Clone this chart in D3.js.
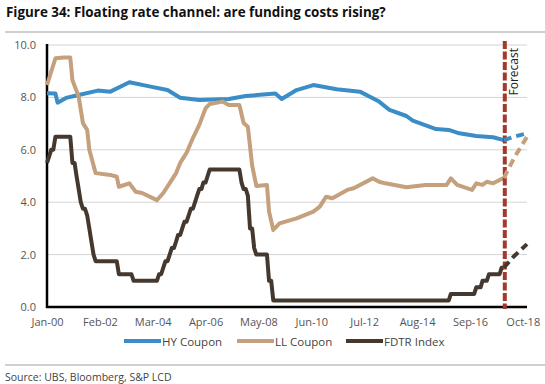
<!DOCTYPE html>
<html>
<head>
<meta charset="utf-8">
<script src="https://cdn.jsdelivr.net/npm/d3@7"></script>
<style>
  body { margin: 0; background: #fff; }
  svg { font-family: "Open Sans", sans-serif; }
</style>
</head>
<body>
<div id="chart"></div>
<script>
// HY coupon (month, %)
const hyCoupon = [
  ["2000-01", 8.16], ["2000-05", 8.15], ["2000-06", 7.80], ["2000-10", 7.98],
  ["2001-04", 8.09], ["2002-01", 8.26], ["2002-07", 8.22], ["2003-04", 8.58],
  ["2004-02", 8.41], ["2004-10", 8.28], ["2005-04", 7.99], ["2006-01", 7.90],
  ["2007-03", 7.94], ["2007-11", 8.05], ["2009-01", 8.15], ["2009-04", 7.94],
  ["2009-11", 8.28], ["2010-07", 8.47], ["2011-06", 8.31], ["2012-05", 8.22],
  ["2013-02", 7.84], ["2013-07", 7.52], ["2014-03", 7.29], ["2014-06", 7.11],
  ["2015-05", 6.79], ["2015-11", 6.76], ["2016-04", 6.63], ["2016-12", 6.53],
  ["2017-08", 6.48], ["2018-01", 6.37]
];

const llCoupon = [
  ["2000-01", 8.47], ["2000-03", 8.98], ["2000-05", 9.49], ["2000-09", 9.52],
  ["2000-12", 9.52], ["2001-01", 8.66], ["2001-04", 8.03], ["2001-06", 7.02],
  ["2001-08", 6.76], ["2001-09", 6.00], ["2001-12", 5.11], ["2002-07", 5.04],
  ["2002-10", 4.97], ["2002-11", 4.59], ["2003-04", 4.72], ["2003-07", 4.40],
  ["2003-10", 4.35], ["2004-05", 4.08], ["2004-08", 4.35], ["2004-11", 4.73],
  ["2005-02", 5.11], ["2005-04", 5.50], ["2005-07", 5.88], ["2005-10", 6.45],
  ["2006-01", 6.95], ["2006-04", 7.58], ["2006-06", 7.75], ["2006-12", 7.84],
  ["2007-03", 7.71], ["2007-08", 7.71], ["2007-10", 7.02], ["2007-12", 6.88],
  ["2008-02", 5.40], ["2008-04", 4.62], ["2008-09", 4.66], ["2008-10", 3.64],
  ["2008-12", 2.94], ["2009-03", 3.19], ["2009-11", 3.38], ["2010-07", 3.64],
  ["2010-10", 3.83], ["2011-01", 4.21], ["2011-04", 4.15], ["2011-11", 4.47],
  ["2012-02", 4.53], ["2012-11", 4.91], ["2013-02", 4.78], ["2013-05", 4.72],
  ["2014-03", 4.57], ["2014-12", 4.66], ["2015-10", 4.66], ["2015-12", 4.91],
  ["2016-03", 4.66], ["2016-10", 4.47], ["2016-12", 4.72], ["2017-03", 4.66],
  ["2017-05", 4.78], ["2017-08", 4.72], ["2017-11", 4.85], ["2018-01", 4.92]
];

const fdtrIndex = [
  ["2000-01", 5.5], ["2000-02", 5.75], ["2000-03", 6.0], ["2000-04", 6.0],
  ["2000-05", 6.5], ["2000-12", 6.5], ["2001-01", 5.5], ["2001-02", 5.5],
  ["2001-03", 5.0], ["2001-04", 4.5], ["2001-05", 4.0], ["2001-06", 3.75],
  ["2001-07", 3.75], ["2001-08", 3.5], ["2001-09", 3.0], ["2001-10", 2.5],
  ["2001-11", 2.0], ["2001-12", 1.75], ["2002-10", 1.75], ["2002-11", 1.25],
  ["2003-05", 1.25], ["2003-06", 1.0], ["2004-05", 1.0], ["2004-06", 1.25],
  ["2004-07", 1.25], ["2004-08", 1.5], ["2004-09", 1.75], ["2004-10", 1.75],
  ["2004-11", 2.0], ["2004-12", 2.25], ["2005-01", 2.25], ["2005-02", 2.5],
  ["2005-03", 2.75], ["2005-04", 2.75], ["2005-05", 3.0], ["2005-06", 3.25],
  ["2005-07", 3.25], ["2005-08", 3.5], ["2005-09", 3.75], ["2005-10", 3.75],
  ["2005-11", 4.0], ["2005-12", 4.25], ["2006-01", 4.5], ["2006-02", 4.5],
  ["2006-03", 4.75], ["2006-04", 4.75], ["2006-05", 5.0], ["2006-06", 5.25],
  ["2007-08", 5.25], ["2007-09", 4.75], ["2007-10", 4.5], ["2007-11", 4.5],
  ["2007-12", 4.25], ["2008-01", 3.0], ["2008-02", 3.0], ["2008-03", 2.25],
  ["2008-04", 2.0], ["2008-09", 2.0], ["2008-10", 1.0], ["2008-11", 1.0],
  ["2008-12", 0.25], ["2015-11", 0.25], ["2015-12", 0.5], ["2016-11", 0.5],
  ["2016-12", 0.75], ["2017-02", 0.75], ["2017-03", 1.0], ["2017-05", 1.0],
  ["2017-06", 1.25], ["2017-11", 1.25], ["2017-12", 1.5], ["2018-01", 1.5]
];

// dashed forecast legs
const hyForecast   = [["2018-01", 6.37], ["2018-06", 6.50], ["2018-12", 6.63]];
const llForecast   = [["2018-01", 4.92], ["2018-06", 5.70], ["2018-12", 6.50]];
const fdtrForecast = [["2018-01", 1.50], ["2018-06", 1.95], ["2018-12", 2.40]];

const forecastStart = "2018-01";
const xDomain = ["2000-01", "2018-12"];
const xTickLabels = ["2000-01", "2002-02", "2004-03", "2006-04", "2008-05",
                     "2010-06", "2012-07", "2014-08", "2016-09", "2018-10"];
const yTicks = [0, 2, 4, 6, 8, 10];

const seriesInfo = [
  { name: "HY Coupon",  color: "#3a8dc6", data: hyCoupon,  fc: hyForecast },
  { name: "LL Coupon",  color: "#c4a07d", data: llCoupon,  fc: llForecast },
  { name: "FDTR Index", color: "#45392f", data: fdtrIndex, fc: fdtrForecast }
];

const W = 545, H = 384;
const parse = d3.timeParse("%Y-%m");

const svg = d3.select("#chart").append("svg")
    .attr("width", W)
    .attr("height", H);

// title + rules
svg.append("text")
    .attr("x", 6).attr("y", 17)
    .attr("font-size", 13.4).attr("font-weight", "bold")
    .attr("fill", "#111")
    .text("Figure 34: Floating rate channel: are funding costs rising?");
svg.append("line").attr("x1", 5).attr("x2", W).attr("y1", 32).attr("y2", 32)
    .attr("stroke", "#d0d0d0").attr("stroke-width", 2);
svg.append("line").attr("x1", 5).attr("x2", W).attr("y1", 365).attr("y2", 365)
    .attr("stroke", "#d0d0d0").attr("stroke-width", 2);
svg.append("text")
    .attr("x", 5).attr("y", 381)
    .attr("font-size", 10.5).attr("fill", "#444")
    .text("Source: UBS, Bloomberg, S&P LCD");

const x = d3.scaleTime()
    .domain(xDomain.map(parse))
    .range([47, 527]);
const y = d3.scaleLinear()
    .domain([0, 10])
    .range([307, 45]);

// grid
svg.append("g")
  .selectAll("line")
  .data(yTicks.slice(1))
  .enter().append("line")
    .attr("x1", 47).attr("x2", 527)
    .attr("y1", d => y(d)).attr("y2", d => y(d))
    .attr("stroke", "#d4d4d4").attr("stroke-width", 1);

// axes
const yAxis = svg.append("g")
    .attr("transform", "translate(47,0)")
    .call(d3.axisLeft(y).tickValues(yTicks).tickFormat(d3.format(".1f")).tickSize(0).tickPadding(11));
const xAxis = svg.append("g")
    .attr("transform", "translate(0,307)")
    .call(d3.axisBottom(x).tickValues(xTickLabels.map(parse))
      .tickFormat(d3.timeFormat("%b-%y")).tickSize(0).tickPadding(11));
[yAxis, xAxis].forEach(a => {
  a.select(".domain").remove();
  a.selectAll("text")
    .attr("font-family", "Open Sans, sans-serif")
    .attr("font-size", 11)
    .attr("fill", "#555");
});
svg.append("line").attr("x1", 47).attr("x2", 47).attr("y1", 44).attr("y2", 308)
    .attr("stroke", "#000").attr("stroke-width", 2.5);
svg.append("line").attr("x1", 46).attr("x2", 527).attr("y1", 307).attr("y2", 307)
    .attr("stroke", "#000").attr("stroke-width", 2.5);

const line = d3.line()
    .x(d => x(parse(d[0])))
    .y(d => y(d[1]));

seriesInfo.forEach(s => {
  svg.append("path")
      .attr("d", line(s.data))
      .attr("fill", "none")
      .attr("stroke", s.color)
      .attr("stroke-width", 4)
      .attr("stroke-linejoin", "round");
});

// forecast marker
const fx = x(parse(forecastStart)) + 1;
svg.append("line")
    .attr("x1", fx).attr("x2", fx).attr("y1", 41).attr("y2", 309)
    .attr("stroke", "#a3392c").attr("stroke-width", 4)
    .attr("stroke-dasharray", "8,2.5");
svg.append("text")
    .attr("transform", `translate(${fx + 9},48) rotate(-90)`)
    .attr("text-anchor", "end")
    .attr("dominant-baseline", "central")
    .attr("font-size", 12).attr("fill", "#222")
    .text("Forecast");

seriesInfo.forEach(s => {
  svg.append("path")
      .attr("d", line(s.fc))
      .attr("fill", "none")
      .attr("stroke", s.color)
      .attr("stroke-width", 4)
      .attr("stroke-dasharray", "8,5");
});

// legend
const legendX = [124, 237, 346];
seriesInfo.forEach((s, i) => {
  const g = svg.append("g").attr("transform", `translate(${legendX[i]},341)`);
  g.append("line").attr("x1", 0).attr("x2", 37)
      .attr("stroke", s.color).attr("stroke-width", 4);
  g.append("text").attr("x", 38).attr("y", 0)
      .attr("dominant-baseline", "central")
      .attr("font-size", 11.5).attr("fill", "#444")
      .text(s.name);
});
</script>
</body>
</html>
